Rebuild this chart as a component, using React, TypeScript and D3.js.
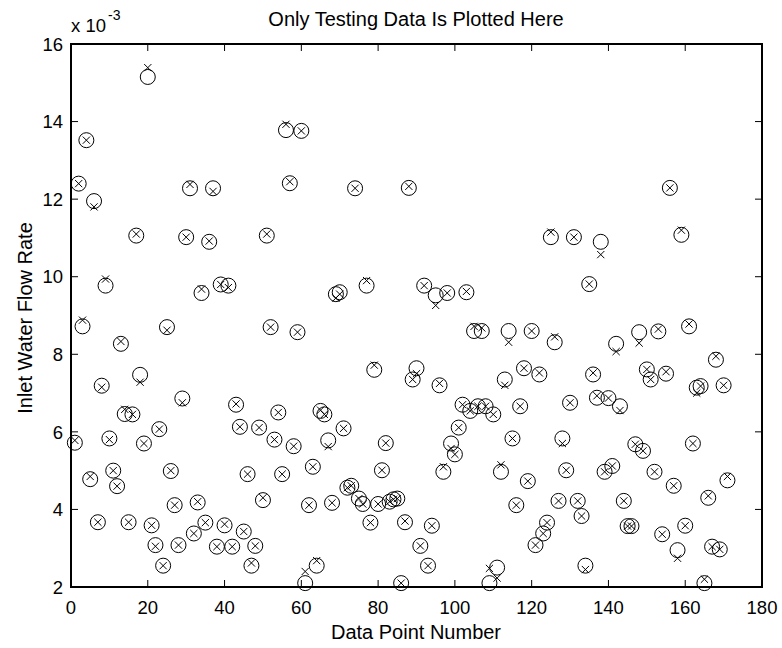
import React from 'react'
import * as d3 from 'd3'

// Measured (circle) and predicted (x) values, in units of 1e-3
const actual = [
  5.72, 12.4, 8.72, 13.52, 4.78, 11.95, 3.67, 7.19, 9.77, 5.83,
  5.0, 4.6, 8.27, 6.46, 3.67, 6.45, 11.06, 7.47, 5.7, 15.15,
  3.59, 3.08, 6.07, 2.55, 8.7, 4.99, 4.11, 3.08, 6.86, 11.02,
  12.28, 3.38, 4.18, 9.58, 3.66, 10.9, 12.28, 3.04, 9.8, 3.59,
  9.77, 3.04, 6.7, 6.13, 3.43, 4.91, 2.55, 3.06, 6.11, 4.24,
  11.06, 8.7, 5.8, 6.5, 4.91, 13.78, 12.41, 5.63, 8.57, 13.76,
  2.1, 4.11, 5.1, 2.55, 6.54, 6.45, 5.78, 4.17, 9.55, 9.6,
  6.09, 4.56, 4.61, 12.28, 4.28, 4.14, 9.77, 3.66, 7.6, 4.14,
  5.01, 5.71, 4.2, 4.26, 4.28, 2.1, 3.67, 12.29, 7.35, 7.64,
  3.06, 9.77, 2.55, 3.58, 9.52, 7.2, 4.97, 9.58, 5.7, 5.42,
  6.11, 6.7, 9.6, 6.54, 8.6, 6.66, 8.6, 6.66, 2.1, 6.45,
  2.5, 4.97, 7.35, 8.6, 5.83, 4.11, 6.66, 7.64, 4.73, 8.6,
  3.08, 7.48, 3.38, 3.66, 11.02, 8.31, 4.22, 5.83, 5.01, 6.75,
  11.02, 4.22, 3.83, 2.55, 9.81, 7.48, 6.88, 10.9, 4.97, 6.87,
  5.12, 8.27, 6.66, 4.22, 3.57, 3.57, 5.68, 8.57, 5.51, 7.61,
  7.35, 4.97, 8.59, 3.36, 7.5, 12.29, 4.61, 2.95, 11.08, 3.58,
  8.72, 5.7, 7.14, 7.18, 2.1, 4.3, 3.04, 7.86, 2.97, 7.2,
  4.75,
]

const predicted = [
  5.78, 12.4, 8.88, 13.52, 4.85, 11.8, 3.67, 7.15, 9.94, 5.8,
  5.0, 4.6, 8.33, 6.58, 3.67, 6.45, 11.1, 7.28, 5.7, 15.39,
  3.59, 3.05, 6.07, 2.55, 8.62, 5.0, 4.11, 3.08, 6.75, 11.02,
  12.38, 3.38, 4.2, 9.68, 3.66, 10.92, 12.2, 3.04, 9.8, 3.62,
  9.72, 3.04, 6.72, 6.13, 3.43, 4.91, 2.62, 3.06, 6.11, 4.3,
  11.1, 8.7, 5.8, 6.5, 4.91, 13.93, 12.45, 5.63, 8.57, 13.76,
  2.4, 4.11, 5.1, 2.68, 6.56, 6.45, 5.62, 4.17, 9.45, 9.55,
  6.09, 4.56, 4.61, 12.28, 4.28, 4.14, 9.9, 3.66, 7.72, 4.14,
  5.01, 5.71, 4.2, 4.26, 4.28, 2.1, 3.7, 12.33, 7.35, 7.5,
  3.06, 9.77, 2.55, 3.58, 9.26, 7.25, 5.1, 9.58, 5.57, 5.42,
  6.11, 6.7, 9.62, 6.54, 8.72, 6.66, 8.68, 6.66, 2.48, 6.45,
  2.23, 5.15, 7.2, 8.31, 5.83, 4.11, 6.66, 7.64, 4.73, 8.6,
  3.08, 7.52, 3.38, 3.66, 11.15, 8.45, 4.22, 5.7, 5.01, 6.75,
  11.02, 4.22, 3.83, 2.45, 9.81, 7.52, 6.93, 10.57, 4.97, 6.87,
  5.12, 8.07, 6.55, 4.22, 3.57, 3.57, 5.68, 8.29, 5.51, 7.61,
  7.35, 4.97, 8.65, 3.36, 7.55, 12.29, 4.61, 2.74, 11.2, 3.58,
  8.78, 5.7, 7.0, 7.18, 2.2, 4.35, 3.04, 7.95, 2.97, 7.2,
  4.85,
]

const xTicks = [0, 20, 40, 60, 80, 100, 120, 140, 160, 180]
const yTicks = [2, 4, 6, 8, 10, 12, 14, 16]

const W = 782
const H = 648
const box = { left: 71, right: 762, top: 44, bottom: 587 }
const font = '"Liberation Sans", Arial, Helvetica, sans-serif'

export default function App() {
  const x = d3.scaleLinear().domain([0, 180]).range([box.left, box.right])
  const y = d3.scaleLinear().domain([2, 16]).range([box.bottom, box.top])
  const tl = 7 // inward tick length
  const xs = 3.6 // half size of the x marker

  return (
    <svg
      width={W}
      height={H}
      style={{ position: 'absolute', left: 0, top: 0, background: '#fff' }}
      fontFamily={font}
    >
      <rect width={W} height={H} fill="#fff" />

      {/* ticks on all four sides, pointing in */}
      <g stroke="#000" strokeWidth={1}>
        {xTicks.map((t) => (
          <g key={'xt' + t}>
            <line x1={x(t)} x2={x(t)} y1={box.bottom} y2={box.bottom - tl} />
            <line x1={x(t)} x2={x(t)} y1={box.top} y2={box.top + tl} />
          </g>
        ))}
        {yTicks.map((t) => (
          <g key={'yt' + t}>
            <line x1={box.left} x2={box.left + tl} y1={y(t)} y2={y(t)} />
            <line x1={box.right} x2={box.right - tl} y1={y(t)} y2={y(t)} />
          </g>
        ))}
      </g>

      {/* markers */}
      <g fill="none" stroke="#000" strokeWidth={1}>
        {actual.map((v, i) => (
          <circle key={'c' + i} cx={x(i + 1)} cy={y(v)} r={7.5} />
        ))}
        {predicted.map((v, i) => {
          const cx = x(i + 1)
          const cy = y(v)
          return (
            <path
              key={'p' + i}
              d={`M${cx - xs},${cy - xs}L${cx + xs},${cy + xs}M${cx - xs},${cy + xs}L${cx + xs},${cy - xs}`}
            />
          )
        })}
      </g>

      {/* axes box */}
      <rect
        x={box.left}
        y={box.top}
        width={box.right - box.left}
        height={box.bottom - box.top}
        fill="none"
        stroke="#000"
        strokeWidth={2}
      />

      {/* tick labels */}
      <g fontSize={18.5} fill="#000">
        {xTicks.map((t) => (
          <text key={'xl' + t} x={x(t)} y={614} textAnchor="middle">
            {t}
          </text>
        ))}
        {yTicks.map((t) => (
          <text key={'yl' + t} x={63} y={y(t) + 6.7} textAnchor="end">
            {t}
          </text>
        ))}
      </g>

      {/* exponent */}
      <text x={71} y={32} fontSize={18.5} fill="#000">
        x 10
        <tspan fontSize={14} dx={2} dy={-12}>-3</tspan>
      </text>

      <text x={416} y={26} fontSize={20} textAnchor="middle" fill="#000">
        Only Testing Data Is Plotted Here
      </text>
      <text x={416} y={639} fontSize={20} textAnchor="middle" fill="#000">
        Data Point Number
      </text>
      <text
        transform="translate(32,318) rotate(-90)"
        fontSize={20}
        textAnchor="middle"
        fill="#000"
      >
        Inlet Water Flow Rate
      </text>
    </svg>
  )
}
